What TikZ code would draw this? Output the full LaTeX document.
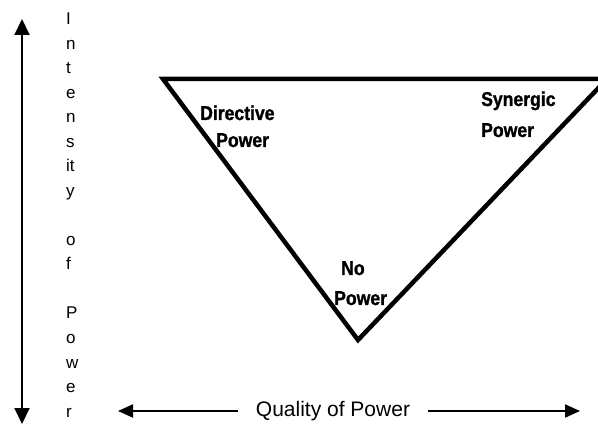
\documentclass[tikz,border=0pt]{standalone}
\usepackage{fontspec}
\setmainfont{Liberation Sans}
\newfontfamily\labfont[FakeStretch=0.88,FakeBold=1.2]{Liberation Sans}
\usetikzlibrary{arrows.meta}
\tikzset{
  axis/.style={line width=2pt},
  vtip/.style={-{Triangle[length=16pt,width=15pt]}},
  htip/.style={-{Triangle[length=15pt,width=13pt]}},
  vletter/.style={anchor=base west, inner sep=0pt, font=\fontsize{17}{17}\selectfont},
  qlabel/.style={inner xsep=18pt, inner ysep=0pt, font=\fontsize{21}{21}\selectfont},
  tri/.style={line width=4.5pt, line join=miter},
  plabel/.style={anchor=base west, inner sep=0pt, font=\labfont\bfseries\fontsize{20}{20}\selectfont}
}
\begin{document}
\begin{tikzpicture}[x=1pt,y=-1pt]
\clip (0,0) rectangle (598,425);
\fill[white] (0,0) rectangle (598,425);
% vertical axis
\coordinate (vt) at (22,19);
\coordinate (vb) at (22,424);
\coordinate (vm) at (22,220);
\draw[axis,vtip] (vm) -- (vt);
\draw[axis,vtip] (vm) -- (vb);
\foreach \t [count=\i] in {I,n,t,e,n,s,it,y,{},o,f,{},P,o,w,e,r}
  \node[vletter] (v\i) at (66,{25+24.5*(\i-1)}) {\t};
% horizontal axis
\node[qlabel] (q) at (333,411) {Quality of Power};
\coordinate (hl) at (118,411);
\coordinate (hr) at (580,411);
\draw[axis,htip] (q.west) -- (hl);
\draw[axis,htip] (q.east) -- (hr);
% triangle
\coordinate (L) at (163,79);
\coordinate (V) at (358,340);
\coordinate (R) at (607,79);
\draw[tri] (V) -- (L) -- (R) -- cycle;
% labels
\node[plabel] (d1) at (200,120) {Directive};
\node[plabel] (d2) at (216,147) {Power};
\node[plabel] (s1) at (481,106) {Synergic};
\node[plabel] (s2) at (481,137) {Power};
\node[plabel] (n1) at (341,275) {No};
\node[plabel] (n2) at (334,305) {Power};
\end{tikzpicture}
\end{document}
